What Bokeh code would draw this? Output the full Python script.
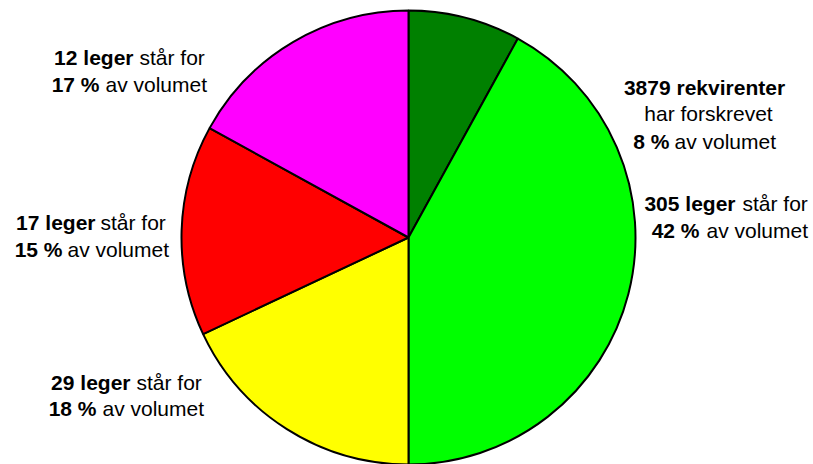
import math
from bokeh.plotting import figure
from bokeh.models import Range1d, ColumnDataSource
from bokeh.core.properties import value
from bokeh.embed import file_html
from bokeh.resources import INLINE

# ---- data (clockwise from 12 o'clock) ----
groups = ["rekvirenter", "leger305", "leger29", "leger17", "leger12"]
counts = [3879, 305, 29, 17, 12]
shares = [8, 42, 18, 15, 17]
colors = ["#008000", "#00FF00", "#FFFF00", "#FF0000", "#FF00FF"]

W, H = 813, 464
p = figure(width=W, height=H, output_backend="svg", toolbar_location=None,
           x_range=Range1d(0, W), y_range=Range1d(0, H), min_border=0)
p.axis.visible = False
p.grid.visible = False
p.outline_line_color = None
p.background_fill_color = "white"
p.border_fill_color = "white"

cx, cy, r = 408, 227, 227
total = float(sum(shares))
starts, ends = [], []
cum = 0.0
for s in shares:
    a_prev = cum / total
    cum += s
    a = cum / total
    starts.append(math.pi / 2 - 2 * math.pi * a)
    ends.append(math.pi / 2 - 2 * math.pi * a_prev)

src = ColumnDataSource(dict(x=[cx] * len(shares), y=[cy] * len(shares),
                            start=starts, end=ends, color=colors))
p.wedge(x="x", y="y", radius=r, start_angle="start", end_angle="end",
        fill_color="color", line_color="black", line_width=2, source=src)

FONT = value("Liberation Sans")
FS = "21px"

def img_y(y):
    return H - y

def line(bold, reg, bx, rx, base):
    if bold:
        p.text(x=[bx], y=[img_y(base)], text=[bold], text_font=FONT,
               text_font_size=FS, text_font_style="bold", text_color="black",
               text_align="right", text_baseline="alphabetic")
    if reg:
        p.text(x=[rx], y=[img_y(base)], text=[reg], text_font=FONT,
               text_font_size=FS, text_color="black",
               text_align="left", text_baseline="alphabetic")

def centered(txt, cxp, base, bold=False):
    p.text(x=[cxp], y=[img_y(base)], text=[txt], text_font=FONT,
           text_font_size=FS, text_font_style="bold" if bold else "normal",
           text_color="black", text_align="center", text_baseline="alphabetic")

# dark green label
centered(f"{counts[0]} rekvirenter", 704, 87, bold=True)
centered("har forskrevet", 708, 113)
line(f"{shares[0]} %", "av volumet", 669, 674, 141)
# green label
line(f"{counts[1]} leger", "står for", 735, 742, 203)
line(f"{shares[1]} %", "av volumet", 699, 706, 230)
# yellow label
line(f"{counts[2]} leger", "står for", 130, 136, 382)
line(f"{shares[2]} %", "av volumet", 96, 102, 408)
# red label
line(f"{counts[3]} leger", "står for", 95, 100, 222)
line(f"{shares[3]} %", "av volumet", 62, 67, 249)
# magenta label
line(f"{counts[4]} leger", "står for", 133, 139, 57)
line(f"{shares[4]} %", "av volumet", 99, 105, 84)

open("out.html", "w").write(file_html(p, INLINE))
